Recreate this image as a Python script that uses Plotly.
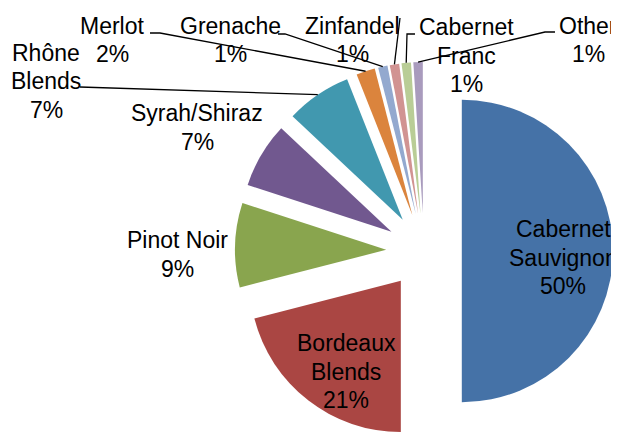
import math
import plotly.graph_objects as go

# ---------------- data ----------------
categories = ["Cabernet Sauvignon", "Bordeaux Blends", "Pinot Noir", "Syrah/Shiraz",
              "Rhône Blends", "Merlot", "Grenache", "Zinfandel", "Cabernet Franc", "Other"]
shares = [50, 21, 9, 7, 7, 2, 1, 1, 1, 1]
colors = ["#4572A7", "#AA4643", "#89A54E", "#71588F", "#4198AF", "#DB843D",
          "#93A9CF", "#D19392", "#B9CD96", "#A99BBD"]

# ---------------- layout geometry (window pixels) ----------------
OFF = 8                      # default page margin around the figure
WIN_W, WIN_H = 619, 440
W, H = WIN_W - OFF, WIN_H - OFF
CX, CY = 424.0, 251.0        # pie centre (window pixels)
BOX_R = WIN_H - CY           # half size of the pie box (radius * (1 + pull))
PULL = 0.25
R = BOX_R / (1 + PULL)
D = PULL * R

WRAP = {"Cabernet Sauvignon", "Bordeaux Blends", "Rhône Blends", "Cabernet Franc"}
LINE_GAP = 28.5
FONT = dict(family="Liberation Sans, Arial, sans-serif", size=23, color="#000000")

# label block centre x and first-line centre y
label_pos = {
    "Cabernet Sauvignon": (563, 229),
    "Bordeaux Blends": (346, 343),
    "Pinot Noir": (177, 240),
    "Syrah/Shiraz": (197, 113),
    "Rhône Blends": (46, 53),
    "Merlot": (112, 26),
    "Grenache": (230, 26),
    "Zinfandel": (352, 26),
    "Cabernet Franc": (467, 27),
    "Other": (588, 26),
}
# leader line start points on the label side
leader_start = {
    "Rhône Blends": [(80, 87)],
    "Merlot": [(150, 33), (160, 33)],
    "Grenache": [(278, 34), (285, 34)],
    "Zinfandel": [(400, 18)],
    "Cabernet Franc": [(415, 34), (407, 34)],
    "Other": [(555, 32), (545, 32)],
}


def paper(x, y):
    return (x - OFF) / W, 1 - (y - OFF) / H


x0, y1 = paper(CX - BOX_R, CY - BOX_R)
x1, y0 = paper(CX + BOX_R, CY + BOX_R)

fig = go.Figure(go.Pie(
    labels=categories, values=shares, sort=False, direction="clockwise", rotation=0,
    pull=[PULL] * len(shares),
    marker=dict(colors=colors, line=dict(width=0)),
    textinfo="none", hoverinfo="label+percent", showlegend=False,
    domain=dict(x=[max(0, x0), min(1, x1)], y=[max(0, y0), min(1, y1)]),
))

total = sum(shares)
annotations = []
shapes = []
cum = 0
for name, v in zip(categories, shares):
    mid = (cum + v / 2) / total * 2 * math.pi
    cum += v
    pct = round(v / total * 100)
    lines = name.split(" ") if name in WRAP else [name]
    lines = lines + [f"{pct}%"]
    lx, ly = label_pos[name]
    for i, t in enumerate(lines):
        x, y = paper(lx, ly + i * LINE_GAP)
        annotations.append(dict(x=x, y=y, xref="paper", yref="paper", text=t,
                                showarrow=False, xanchor="center", yanchor="middle",
                                font=FONT))
    if name in leader_start:
        ex = CX + (R + D) * math.sin(mid)
        ey = CY - (R + D) * math.cos(mid)
        pts = leader_start[name] + [(ex, ey)]
        path = ""
        for j, (px_, py_) in enumerate(pts):
            x, y = paper(px_, py_)
            path += ("M" if j == 0 else "L") + f"{x:.5f},{y:.5f}"
        shapes.append(dict(type="path", path=path, xref="paper", yref="paper",
                           line=dict(color="#000000", width=1.3)))

fig.update_layout(
    width=W, height=H, margin=dict(l=0, r=0, t=0, b=0),
    paper_bgcolor="white", plot_bgcolor="white",
    annotations=annotations, shapes=shapes,
)

fig.write_html("out.html")
